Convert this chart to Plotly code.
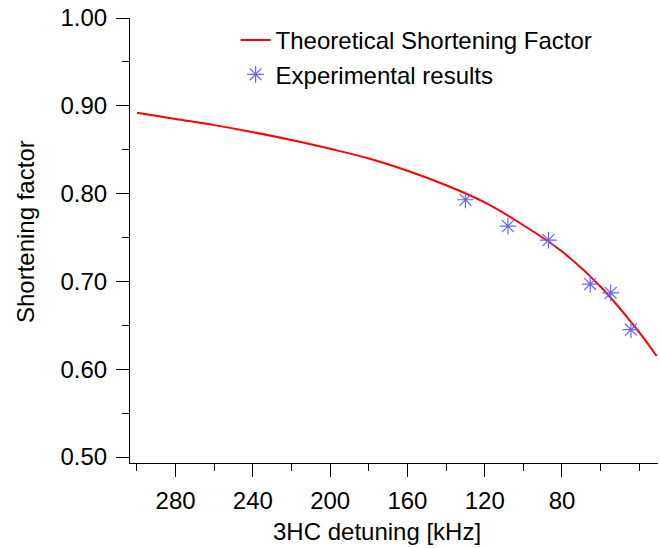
import plotly.graph_objects as go

# Theoretical curve
theory_x = [300, 280, 260, 240, 220, 200, 180, 160, 140, 120, 100, 80, 60, 40, 31]
theory_y = [0.892, 0.885, 0.878, 0.870, 0.861, 0.851, 0.840, 0.826, 0.8095, 0.790, 0.764, 0.734, 0.694, 0.642, 0.615]

# Experimental points
exp_x = [130, 108, 87, 65.4, 54.8, 44.3]
exp_y = [0.793, 0.763, 0.747, 0.697, 0.687, 0.645]

x_ticks = [280, 240, 200, 160, 120, 80]
y_ticks = [0.50, 0.60, 0.70, 0.80, 0.90, 1.00]

FONT = "Liberation Sans, Arial, Helvetica, sans-serif"
FS = 24

fig = go.Figure()
fig.add_trace(go.Scatter(
    x=theory_x, y=theory_y, mode="lines", name="Theoretical Shortening Factor",
    line=dict(color="#ff0000", width=2, shape="spline", smoothing=1.0),
))
fig.add_trace(go.Scatter(
    x=exp_x, y=exp_y, mode="markers", name="Experimental results",
    marker=dict(symbol="asterisk-open", size=14, color="#6666ff",
                line=dict(color="#6666ff", width=1.2)),
))

fig.update_layout(
    width=660, height=548,
    margin=dict(l=130, r=2, t=18, b=85),
    paper_bgcolor="white", plot_bgcolor="white",
    font=dict(family=FONT, size=FS, color="black"),
    showlegend=True,
    legend=dict(x=0.20, y=1.0, xanchor="left", yanchor="top",
                bgcolor="rgba(0,0,0,0)", font=dict(size=FS, family=FONT),
                tracegroupgap=0),
    xaxis=dict(
        range=[303.6, 30.3], showgrid=False, zeroline=False,
        showline=True, linecolor="black", linewidth=1,
        ticks="outside", ticklen=13, tickwidth=1, tickcolor="black",
        tickvals=x_ticks, ticktext=[str(v) for v in x_ticks],
        ticklabelstandoff=3,
        minor=dict(ticks="outside", ticklen=7, tickwidth=1, tickcolor="black",
                   dtick=20, tick0=0),
        tickfont=dict(size=FS, family=FONT),
    ),
    yaxis=dict(
        range=[0.4932, 1.0], showgrid=False, zeroline=False,
        showline=True, linecolor="black", linewidth=1,
        ticks="outside", ticklen=13, tickwidth=1, tickcolor="black",
        tickvals=y_ticks, ticktext=[f"{v:.2f}" for v in y_ticks],
        ticklabelstandoff=4,
        minor=dict(ticks="outside", ticklen=7, tickwidth=1, tickcolor="black",
                   dtick=0.05, tick0=0),
        tickfont=dict(size=FS, family=FONT),
    ),
    annotations=[
        dict(text="3HC detuning [kHz]", xref="paper", yref="paper",
             x=0.468, y=-0.155, xanchor="center", yanchor="middle",
             showarrow=False, font=dict(size=FS, family=FONT)),
        dict(text="Shortening factor", xref="paper", yref="paper",
             x=-0.198, y=0.52, xanchor="center", yanchor="middle",
             textangle=-90, showarrow=False, font=dict(size=FS, family=FONT)),
    ],
)

fig.write_html("out.html")
